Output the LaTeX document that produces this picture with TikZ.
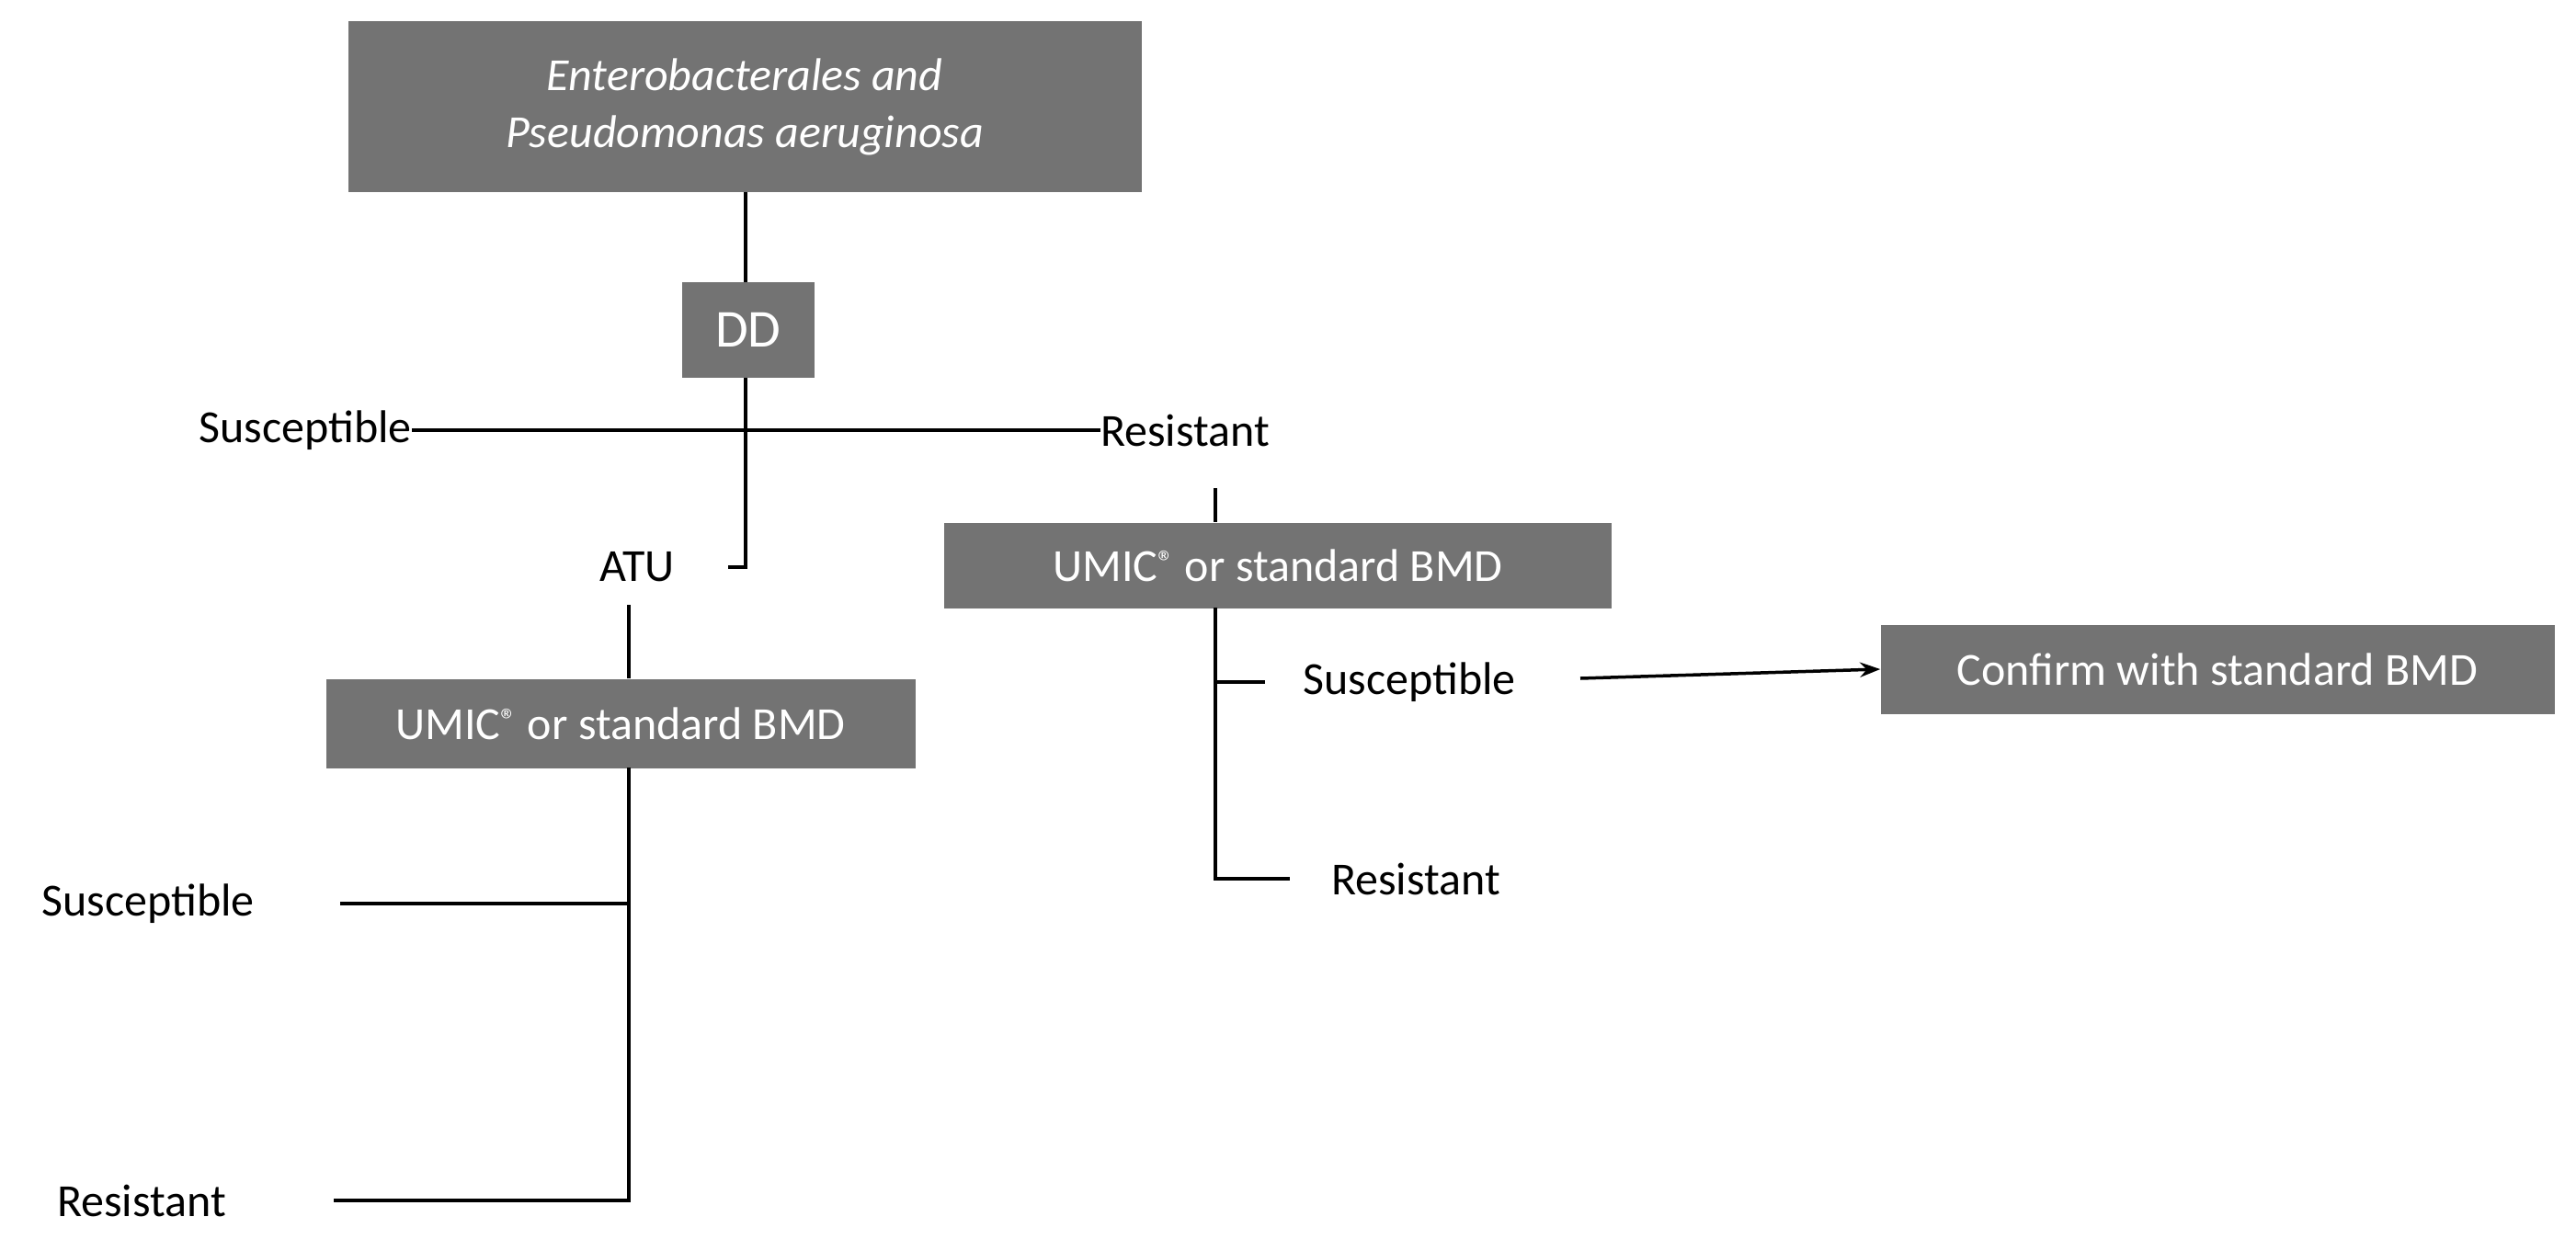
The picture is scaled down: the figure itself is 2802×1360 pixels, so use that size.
\documentclass[tikz,border=0pt]{standalone}
\usepackage{fontspec}
\setmainfont{Carlito}
\usetikzlibrary{arrows.meta}
\begin{document}
\begin{tikzpicture}[x=1pt,y=-1pt,
  box/.style={fill=black!55,text=white,inner sep=0pt,font=\fontsize{50}{60}\selectfont},
  lbl/.style={inner sep=0pt,font=\fontsize{50}{60}\selectfont},
  ln/.style={line width=4.5pt}]
\useasboundingbox (0,0) rectangle (2802,1360);
\node[box,minimum width=863,minimum height=186,align=center,font=\fontsize{50}{62}\selectfont\itshape] (top) at (810,116) {Enterobacterales and\\Pseudomonas aeruginosa};
\node[box,minimum width=144,minimum height=104,font=\fontsize{58}{60}\selectfont] (dd) at (814,359) {DD};
\node[lbl] (s1) at (332,468) {Susceptible};
\node[lbl] (r1) at (1289,468) {Resistant};
\node[lbl] (atu) at (693,617) {ATU};
\node[box,minimum width=641,minimum height=97] (u1) at (675,787) {UMIC\textsuperscript{®} or standard BMD};
\node[lbl] (s2) at (161,983) {Susceptible};
\node[lbl] (r2) at (154,1306) {Resistant};
\node[box,minimum width=726,minimum height=93] (u2) at (1390,615) {UMIC\textsuperscript{®} or standard BMD};
\node[lbl] (s3) at (1533,742) {Susceptible};
\node[lbl] (r3) at (1540,956) {Resistant};
\node[box,minimum width=733,minimum height=97] (cf) at (2412,728) {Confirm with standard BMD};
\coordinate (h1) at (811,617);
\coordinate (v2) at (1322,531);
\draw[ln] (811,209) -- (811,307);
\draw[ln] (811,411) -- (h1) -- (792,617);
\draw[ln] (s1.east) -- (r1.west);
\draw[ln] (684,658) -- (684,738);
\draw[ln] (684,835) -- (684,1306) -- (363,1306);
\draw[ln] (684,983) -- (370,983);
\draw[ln] (v2) -- (1322,568);
\draw[ln] (1322,661) -- (1322,956) -- (1403,956);
\draw[ln] (1322,742) -- (1376,742);
\draw[line width=3.5pt,-{Stealth[length=22pt,width=16pt]}] (1719,738) -- (cf.west);
\end{tikzpicture}
\end{document}
